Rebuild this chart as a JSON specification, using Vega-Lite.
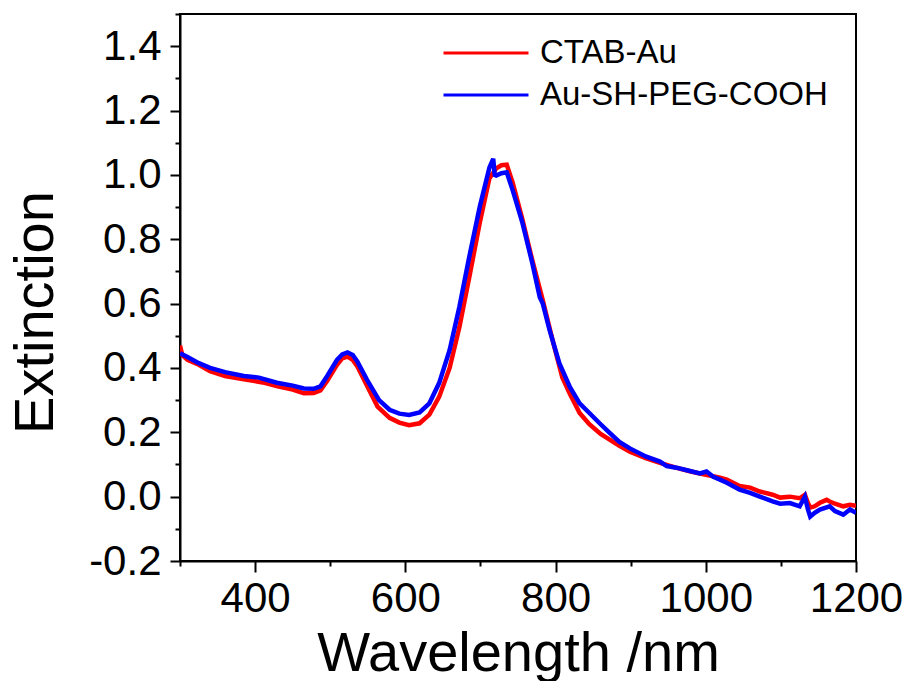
{
  "$schema": "https://vega.github.io/schema/vega-lite/v6.json",
  "autosize": {"type": "none"},
  "padding": {"left": 180, "top": 14, "right": 53, "bottom": 120},
  "width": 676,
  "height": 547,
  "background": "white",
  "config": {
    "view": {"stroke": "black", "strokeWidth": 2},
    "font": "Liberation Sans"
  },
  "data": {
    "values": [
      {"series": "CTAB-Au", "wl": 300, "ext": 0.47},
      {"series": "CTAB-Au", "wl": 303, "ext": 0.44},
      {"series": "CTAB-Au", "wl": 310, "ext": 0.425},
      {"series": "CTAB-Au", "wl": 325, "ext": 0.41},
      {"series": "CTAB-Au", "wl": 340, "ext": 0.39},
      {"series": "CTAB-Au", "wl": 360, "ext": 0.375},
      {"series": "CTAB-Au", "wl": 385, "ext": 0.365},
      {"series": "CTAB-Au", "wl": 410, "ext": 0.355},
      {"series": "CTAB-Au", "wl": 430, "ext": 0.343},
      {"series": "CTAB-Au", "wl": 450, "ext": 0.333},
      {"series": "CTAB-Au", "wl": 465, "ext": 0.321},
      {"series": "CTAB-Au", "wl": 478, "ext": 0.322},
      {"series": "CTAB-Au", "wl": 487, "ext": 0.33},
      {"series": "CTAB-Au", "wl": 496, "ext": 0.36},
      {"series": "CTAB-Au", "wl": 509, "ext": 0.41},
      {"series": "CTAB-Au", "wl": 516, "ext": 0.43},
      {"series": "CTAB-Au", "wl": 523, "ext": 0.435},
      {"series": "CTAB-Au", "wl": 530, "ext": 0.425},
      {"series": "CTAB-Au", "wl": 536, "ext": 0.405},
      {"series": "CTAB-Au", "wl": 549, "ext": 0.345},
      {"series": "CTAB-Au", "wl": 563, "ext": 0.28},
      {"series": "CTAB-Au", "wl": 579, "ext": 0.245},
      {"series": "CTAB-Au", "wl": 592, "ext": 0.23},
      {"series": "CTAB-Au", "wl": 605, "ext": 0.222},
      {"series": "CTAB-Au", "wl": 619, "ext": 0.228},
      {"series": "CTAB-Au", "wl": 632, "ext": 0.255},
      {"series": "CTAB-Au", "wl": 645, "ext": 0.31},
      {"series": "CTAB-Au", "wl": 659, "ext": 0.4},
      {"series": "CTAB-Au", "wl": 672, "ext": 0.527},
      {"series": "CTAB-Au", "wl": 685, "ext": 0.68},
      {"series": "CTAB-Au", "wl": 699, "ext": 0.85},
      {"series": "CTAB-Au", "wl": 712, "ext": 0.99},
      {"series": "CTAB-Au", "wl": 721, "ext": 1.02},
      {"series": "CTAB-Au", "wl": 728, "ext": 1.03},
      {"series": "CTAB-Au", "wl": 735, "ext": 1.032},
      {"series": "CTAB-Au", "wl": 743, "ext": 0.975},
      {"series": "CTAB-Au", "wl": 756, "ext": 0.86},
      {"series": "CTAB-Au", "wl": 769, "ext": 0.735},
      {"series": "CTAB-Au", "wl": 783, "ext": 0.61},
      {"series": "CTAB-Au", "wl": 796, "ext": 0.487},
      {"series": "CTAB-Au", "wl": 809, "ext": 0.37},
      {"series": "CTAB-Au", "wl": 819, "ext": 0.32},
      {"series": "CTAB-Au", "wl": 832, "ext": 0.26},
      {"series": "CTAB-Au", "wl": 845, "ext": 0.225},
      {"series": "CTAB-Au", "wl": 860, "ext": 0.195},
      {"series": "CTAB-Au", "wl": 872, "ext": 0.177},
      {"series": "CTAB-Au", "wl": 885, "ext": 0.158},
      {"series": "CTAB-Au", "wl": 899, "ext": 0.14},
      {"series": "CTAB-Au", "wl": 920, "ext": 0.12},
      {"series": "CTAB-Au", "wl": 939, "ext": 0.105},
      {"series": "CTAB-Au", "wl": 960, "ext": 0.09},
      {"series": "CTAB-Au", "wl": 980, "ext": 0.078},
      {"series": "CTAB-Au", "wl": 1000, "ext": 0.068},
      {"series": "CTAB-Au", "wl": 1019, "ext": 0.059},
      {"series": "CTAB-Au", "wl": 1028, "ext": 0.053},
      {"series": "CTAB-Au", "wl": 1045, "ext": 0.033},
      {"series": "CTAB-Au", "wl": 1059, "ext": 0.028},
      {"series": "CTAB-Au", "wl": 1072, "ext": 0.016},
      {"series": "CTAB-Au", "wl": 1089, "ext": 0.006},
      {"series": "CTAB-Au", "wl": 1099, "ext": -0.003},
      {"series": "CTAB-Au", "wl": 1112, "ext": 0.0},
      {"series": "CTAB-Au", "wl": 1125, "ext": -0.005},
      {"series": "CTAB-Au", "wl": 1132, "ext": 0.006},
      {"series": "CTAB-Au", "wl": 1136, "ext": -0.02},
      {"series": "CTAB-Au", "wl": 1139, "ext": -0.034},
      {"series": "CTAB-Au", "wl": 1145, "ext": -0.03},
      {"series": "CTAB-Au", "wl": 1152, "ext": -0.019},
      {"series": "CTAB-Au", "wl": 1161, "ext": -0.01},
      {"series": "CTAB-Au", "wl": 1165, "ext": -0.015},
      {"series": "CTAB-Au", "wl": 1172, "ext": -0.022},
      {"series": "CTAB-Au", "wl": 1183, "ext": -0.03},
      {"series": "CTAB-Au", "wl": 1192, "ext": -0.025},
      {"series": "CTAB-Au", "wl": 1200, "ext": -0.028},
      {"series": "Au-SH-PEG-COOH", "wl": 300, "ext": 0.446},
      {"series": "Au-SH-PEG-COOH", "wl": 310, "ext": 0.434},
      {"series": "Au-SH-PEG-COOH", "wl": 325, "ext": 0.415},
      {"series": "Au-SH-PEG-COOH", "wl": 340, "ext": 0.4},
      {"series": "Au-SH-PEG-COOH", "wl": 360, "ext": 0.387},
      {"series": "Au-SH-PEG-COOH", "wl": 385, "ext": 0.375},
      {"series": "Au-SH-PEG-COOH", "wl": 405, "ext": 0.37},
      {"series": "Au-SH-PEG-COOH", "wl": 429, "ext": 0.354},
      {"series": "Au-SH-PEG-COOH", "wl": 450, "ext": 0.345},
      {"series": "Au-SH-PEG-COOH", "wl": 465, "ext": 0.336},
      {"series": "Au-SH-PEG-COOH", "wl": 478, "ext": 0.335},
      {"series": "Au-SH-PEG-COOH", "wl": 487, "ext": 0.343},
      {"series": "Au-SH-PEG-COOH", "wl": 496, "ext": 0.375},
      {"series": "Au-SH-PEG-COOH", "wl": 509, "ext": 0.425},
      {"series": "Au-SH-PEG-COOH", "wl": 516, "ext": 0.442},
      {"series": "Au-SH-PEG-COOH", "wl": 523, "ext": 0.448},
      {"series": "Au-SH-PEG-COOH", "wl": 530, "ext": 0.44},
      {"series": "Au-SH-PEG-COOH", "wl": 536, "ext": 0.42},
      {"series": "Au-SH-PEG-COOH", "wl": 549, "ext": 0.363},
      {"series": "Au-SH-PEG-COOH", "wl": 565, "ext": 0.3},
      {"series": "Au-SH-PEG-COOH", "wl": 579, "ext": 0.27},
      {"series": "Au-SH-PEG-COOH", "wl": 592, "ext": 0.258},
      {"series": "Au-SH-PEG-COOH", "wl": 605, "ext": 0.254},
      {"series": "Au-SH-PEG-COOH", "wl": 619, "ext": 0.262},
      {"series": "Au-SH-PEG-COOH", "wl": 632, "ext": 0.29},
      {"series": "Au-SH-PEG-COOH", "wl": 645, "ext": 0.353},
      {"series": "Au-SH-PEG-COOH", "wl": 659, "ext": 0.456},
      {"series": "Au-SH-PEG-COOH", "wl": 672, "ext": 0.59},
      {"series": "Au-SH-PEG-COOH", "wl": 685, "ext": 0.744},
      {"series": "Au-SH-PEG-COOH", "wl": 699, "ext": 0.9},
      {"series": "Au-SH-PEG-COOH", "wl": 712, "ext": 1.023},
      {"series": "Au-SH-PEG-COOH", "wl": 717, "ext": 1.05},
      {"series": "Au-SH-PEG-COOH", "wl": 719, "ext": 1.0},
      {"series": "Au-SH-PEG-COOH", "wl": 721, "ext": 0.998},
      {"series": "Au-SH-PEG-COOH", "wl": 728, "ext": 1.005},
      {"series": "Au-SH-PEG-COOH", "wl": 735, "ext": 1.008},
      {"series": "Au-SH-PEG-COOH", "wl": 743, "ext": 0.952},
      {"series": "Au-SH-PEG-COOH", "wl": 756, "ext": 0.85},
      {"series": "Au-SH-PEG-COOH", "wl": 769, "ext": 0.726},
      {"series": "Au-SH-PEG-COOH", "wl": 779, "ext": 0.62},
      {"series": "Au-SH-PEG-COOH", "wl": 783, "ext": 0.6},
      {"series": "Au-SH-PEG-COOH", "wl": 792, "ext": 0.518},
      {"series": "Au-SH-PEG-COOH", "wl": 805, "ext": 0.415},
      {"series": "Au-SH-PEG-COOH", "wl": 819, "ext": 0.341},
      {"series": "Au-SH-PEG-COOH", "wl": 832, "ext": 0.29},
      {"series": "Au-SH-PEG-COOH", "wl": 845, "ext": 0.26},
      {"series": "Au-SH-PEG-COOH", "wl": 860, "ext": 0.225},
      {"series": "Au-SH-PEG-COOH", "wl": 872, "ext": 0.198},
      {"series": "Au-SH-PEG-COOH", "wl": 885, "ext": 0.17},
      {"series": "Au-SH-PEG-COOH", "wl": 899, "ext": 0.15},
      {"series": "Au-SH-PEG-COOH", "wl": 920, "ext": 0.125},
      {"series": "Au-SH-PEG-COOH", "wl": 939, "ext": 0.109},
      {"series": "Au-SH-PEG-COOH", "wl": 948, "ext": 0.095},
      {"series": "Au-SH-PEG-COOH", "wl": 961, "ext": 0.09},
      {"series": "Au-SH-PEG-COOH", "wl": 975, "ext": 0.082},
      {"series": "Au-SH-PEG-COOH", "wl": 992, "ext": 0.072},
      {"series": "Au-SH-PEG-COOH", "wl": 1001, "ext": 0.078},
      {"series": "Au-SH-PEG-COOH", "wl": 1010, "ext": 0.062},
      {"series": "Au-SH-PEG-COOH", "wl": 1019, "ext": 0.053},
      {"series": "Au-SH-PEG-COOH", "wl": 1028, "ext": 0.043},
      {"series": "Au-SH-PEG-COOH", "wl": 1045, "ext": 0.022},
      {"series": "Au-SH-PEG-COOH", "wl": 1059, "ext": 0.012},
      {"series": "Au-SH-PEG-COOH", "wl": 1072, "ext": 0.0},
      {"series": "Au-SH-PEG-COOH", "wl": 1089, "ext": -0.015},
      {"series": "Au-SH-PEG-COOH", "wl": 1099, "ext": -0.022},
      {"series": "Au-SH-PEG-COOH", "wl": 1112, "ext": -0.02},
      {"series": "Au-SH-PEG-COOH", "wl": 1125, "ext": -0.03},
      {"series": "Au-SH-PEG-COOH", "wl": 1132, "ext": 0.0},
      {"series": "Au-SH-PEG-COOH", "wl": 1136, "ext": -0.04},
      {"series": "Au-SH-PEG-COOH", "wl": 1139, "ext": -0.062},
      {"series": "Au-SH-PEG-COOH", "wl": 1145, "ext": -0.05},
      {"series": "Au-SH-PEG-COOH", "wl": 1152, "ext": -0.04},
      {"series": "Au-SH-PEG-COOH", "wl": 1165, "ext": -0.03},
      {"series": "Au-SH-PEG-COOH", "wl": 1172, "ext": -0.045},
      {"series": "Au-SH-PEG-COOH", "wl": 1183, "ext": -0.056},
      {"series": "Au-SH-PEG-COOH", "wl": 1192, "ext": -0.04},
      {"series": "Au-SH-PEG-COOH", "wl": 1200, "ext": -0.05}
    ]
  },
  "mark": {"type": "line", "strokeWidth": 4.5, "clip": true},
  "encoding": {
    "x": {
      "field": "wl", "type": "quantitative",
      "scale": {"domain": [300, 1200], "nice": false, "zero": false},
      "axis": {
        "values": [300, 400, 500, 600, 700, 800, 900, 1000, 1100, 1200],
        "format": "d",
        "labelExpr": "datum.value % 200 === 0 ? datum.label : ''",
        "tickSize": {"condition": {"test": "datum.value % 200 !== 0", "value": 5}, "value": 11},
        "tickWidth": 2, "tickColor": "black",
        "domainWidth": 2, "domainColor": "black",
        "grid": false,
        "labelFont": "Liberation Sans", "labelFontSize": 42, "labelColor": "black",
        "labelPadding": 6, "labelFlush": false, "labelOverlap": false,
        "title": "Wavelength /nm",
        "titleFont": "Liberation Sans", "titleFontSize": 56, "titleFontWeight": "normal", "titleColor": "black",
        "titleBaseline": "alphabetic", "titleY": 109
      }
    },
    "y": {
      "field": "ext", "type": "quantitative",
      "scale": {"domain": [-0.2, 1.5], "nice": false, "zero": false},
      "axis": {
        "values": [-0.2, -0.1, 0, 0.1, 0.2, 0.3, 0.4, 0.5, 0.6, 0.7, 0.8, 0.9, 1.0, 1.1, 1.2, 1.3, 1.4, 1.5],
        "format": ".1f",
        "labelExpr": "abs(round(datum.value * 10)) % 2 === 0 ? replace(datum.label, '\u2212', '-') : ''",
        "tickSize": {"condition": {"test": "abs(round(datum.value * 10)) % 2 === 1", "value": 5}, "value": 10},
        "tickWidth": 2, "tickColor": "black",
        "domainWidth": 2, "domainColor": "black",
        "grid": false,
        "labelFont": "Liberation Sans", "labelFontSize": 42, "labelColor": "black",
        "labelPadding": 9, "labelFlush": false, "labelOverlap": false,
        "title": "Extinction",
        "titleFont": "Liberation Sans", "titleFontSize": 56, "titleFontWeight": "normal", "titleColor": "black",
        "titleBaseline": "alphabetic", "titleAlign": "center", "titleAngle": -90,
        "titleX": -128, "titleY": 298
      }
    },
    "color": {
      "field": "series", "type": "nominal",
      "scale": {"domain": ["CTAB-Au", "Au-SH-PEG-COOH"], "range": ["#ff0000", "#0000ff"]},
      "legend": {
        "title": null,
        "orient": "none",
        "legendX": 262,
        "legendY": 19,
        "padding": 0,
        "symbolType": "stroke",
        "symbolSize": 7225,
        "symbolStrokeWidth": 3,
        "clipHeight": 40,
        "rowPadding": 2,
        "labelOffset": 10,
        "labelFont": "Liberation Sans",
        "labelFontSize": 33,
        "labelColor": "black",
        "labelLimit": 400
      }
    }
  }
}
